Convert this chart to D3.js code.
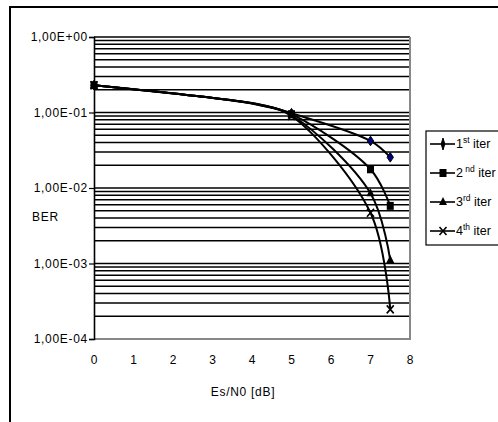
<!DOCTYPE html>
<html>
<head>
<meta charset="utf-8">
<script src="https://cdn.jsdelivr.net/npm/d3@7"></script>
<style>
  body { margin: 0; background: #fff; }
  svg { display: block; font-family: "Liberation Sans", Arial, sans-serif; }
  .lbl { font-size: 12px; letter-spacing: 0.7px; fill: #000; }
</style>
</head>
<body>
<svg id="chart" width="498" height="422"></svg>
<script>
var snr = [0, 2.6, 4.2, 5, 7, 7.5];
var hasMarker = [true, false, false, true, true, true];
var iter1 = [0.23, 0.165, 0.128, 0.098, 0.042, 0.0255];
var iter2 = [0.23, 0.165, 0.127, 0.095, 0.0177, 0.0058];
var iter3 = [0.23, 0.165, 0.126, 0.092, 0.0085, 0.00111];
var iter4 = [0.23, 0.165, 0.125, 0.09, 0.0047, 0.000247];
var seriesNames = [["1", "st"], ["2", " nd"], ["3", "rd"], ["4", "th"]];
var markerKinds = ["diamond", "square", "triangle", "cross"];
var xTicks = [0, 1, 2, 3, 4, 5, 6, 7, 8];
var yTicks = [1, 0.1, 0.01, 0.001, 0.0001];
var yTickLabels = ["1,00E+00", "1,00E-01", "1,00E-02", "1,00E-03", "1,00E-04"];

var svg = d3.select("#chart");

// outer chart frame (cut off at right and bottom like the original)
svg.append("rect")
  .attr("x", 10).attr("y", 7)
  .attr("width", 520).attr("height", 440)
  .attr("fill", "none").attr("stroke", "#000").attr("stroke-width", 2);

var x = d3.scaleLinear().domain([0, 8]).range([94, 410]);
var y = d3.scaleLog().domain([1e-4, 1]).range([339, 37]);

// minor + major grid lines
var grid = [];
for (var e = -4; e < 0; e++) {
  for (var m = 1; m <= 9; m++) grid.push(m * Math.pow(10, e));
}
grid.push(1);
svg.append("g").selectAll("line")
  .data(grid.filter(function(d) { return d > 1.5e-4; }))
  .enter().append("line")
  .attr("x1", x(0)).attr("x2", x(8))
  .attr("y1", function(d) { return y(d); })
  .attr("y2", function(d) { return y(d); })
  .attr("stroke", "#000").attr("stroke-width", 1.6);

// bottom and right border of plot area (gray)
svg.append("path")
  .attr("d", "M" + x(0) + "," + y(1e-4) + "H" + x(8) + "V" + y(1))
  .attr("fill", "none").attr("stroke", "#888").attr("stroke-width", 2);

// y axis
var yAxis = d3.axisLeft(y).tickValues(yTicks)
  .tickFormat(function(d, i) { return yTickLabels[i]; })
  .tickSize(5).tickPadding(1);
var gy = svg.append("g").attr("transform", "translate(" + x(0) + ",0)").call(yAxis);
gy.select(".domain").attr("stroke", "#000").attr("stroke-width", 1.6);
gy.selectAll(".tick line").attr("stroke", "#000").attr("stroke-width", 1.2);
gy.selectAll("text").attr("class", "lbl").attr("font-size", null).attr("font-family", null);

// x axis
var xAxis = d3.axisBottom(x).tickValues(xTicks).tickSize(0).tickPadding(16);
var gx = svg.append("g").attr("transform", "translate(0," + y(1e-4) + ")").call(xAxis);
gx.select(".domain").remove();
gx.selectAll("text").attr("class", "lbl").attr("font-size", null).attr("font-family", null);

svg.append("text").attr("class", "lbl")
  .attr("x", 32).attr("y", 221).text("BER");
svg.append("text").attr("class", "lbl")
  .attr("x", 243).attr("y", 396).attr("text-anchor", "middle").text("Es/N0 [dB]");

// series
var allSeries = [iter1, iter2, iter3, iter4];
var line = d3.line()
  .x(function(d) { return x(d[0]); })
  .y(function(d) { return y(d[1]); })
  .curve(d3.curveCatmullRom.alpha(0.5));

function drawMarker(g, kind, cx, cy, legend) {
  if (kind === "diamond") {
    var w = legend ? 1.8 : 3.2, h = legend ? 6 : 4.8;
    g.append("path")
      .attr("d", "M" + cx + "," + (cy - h) + "L" + (cx + w) + "," + cy + "L" + cx + "," + (cy + h) + "L" + (cx - w) + "," + cy + "Z")
      .attr("fill", legend ? "#000" : "#000080").attr("stroke", "#000").attr("stroke-width", 1);
  } else if (kind === "square") {
    g.append("rect").attr("x", cx - 3.5).attr("y", cy - 4).attr("width", 7).attr("height", 8)
      .attr("fill", "#000");
  } else if (kind === "triangle") {
    g.append("path")
      .attr("d", "M" + cx + "," + (cy - 5) + "L" + (cx + 4) + "," + (cy + 3) + "L" + (cx - 4) + "," + (cy + 3) + "Z")
      .attr("fill", "#000");
  } else {
    g.append("path")
      .attr("d", "M" + (cx - 3.5) + "," + (cy - 4) + "L" + (cx + 3.5) + "," + (cy + 4) +
                 "M" + (cx + 3.5) + "," + (cy - 4) + "L" + (cx - 3.5) + "," + (cy + 4))
      .attr("stroke", "#000").attr("stroke-width", 1.6).attr("fill", "none");
  }
}

allSeries.forEach(function(vals, i) {
  var pts = snr.map(function(s, j) { return [s, vals[j]]; });
  svg.append("path").datum(pts)
    .attr("d", line)
    .attr("fill", "none").attr("stroke", "#000").attr("stroke-width", 2);
});
allSeries.forEach(function(vals, i) {
  var g = svg.append("g");
  snr.forEach(function(s, j) {
    if (hasMarker[j]) drawMarker(g, markerKinds[i], x(s), y(vals[j]), false);
  });
});

// legend
var lg = svg.append("g");
lg.append("rect").attr("x", 426).attr("y", 131).attr("width", 90).attr("height", 114)
  .attr("fill", "#fff").attr("stroke", "#000").attr("stroke-width", 1.2);
var legendY = d3.scalePoint().domain([0, 1, 2, 3]).range([144, 231]);
seriesNames.forEach(function(nm, i) {
  var ly = legendY(i);
  lg.append("line").attr("x1", 430).attr("x2", 455).attr("y1", ly).attr("y2", ly)
    .attr("stroke", "#000").attr("stroke-width", 1.6);
  drawMarker(lg, markerKinds[i], 443, ly, true);
  var t = lg.append("text").attr("class", "lbl").attr("x", 456).attr("y", ly + 4)
    .style("font-size", "12.5px").style("letter-spacing", "0px");
  t.append("tspan").text(nm[0]);
  t.append("tspan").attr("dy", -5).style("font-size", "8.5px").text(nm[1]);
  t.append("tspan").attr("dy", 5).text(" iter");
});
</script>
</body>
</html>
